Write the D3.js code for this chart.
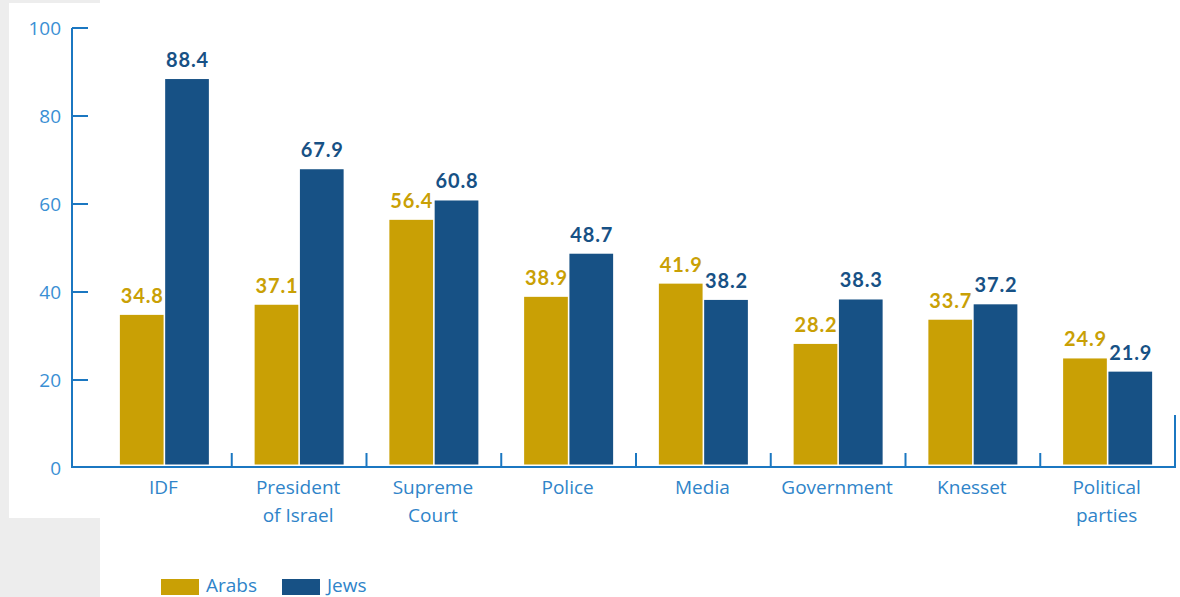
<!DOCTYPE html>
<html>
<head>
<meta charset="utf-8">
<script src="https://cdn.jsdelivr.net/npm/d3@7"></script>
<style>
  html, body { margin: 0; padding: 0; background: #ffffff; }
  svg { display: block; }
</style>
</head>
<body>
<svg id="chart" width="1180" height="597"></svg>
<script>
// Trust in institutions, by population group (%)
const categories = [
  ["IDF"],
  ["President", "of Israel"],
  ["Supreme", "Court"],
  ["Police"],
  ["Media"],
  ["Government"],
  ["Knesset"],
  ["Political", "parties"]
];
const arabs = [34.8, 37.1, 56.4, 38.9, 41.9, 28.2, 33.7, 24.9];
const jews  = [88.4, 67.9, 60.8, 48.7, 38.2, 38.3, 37.2, 21.9];
const seriesNames = ["Arabs", "Jews"];
const yTicks = [0, 20, 40, 60, 80, 100];

const colors = { Arabs: "#c9a005", Jews: "#175185" };
const axisColor = "#1b77c1";
const labelColor = "#2f84c9";

const svg = d3.select("#chart");

// page panels
svg.append("rect").attr("x", 0).attr("y", 0).attr("width", 100).attr("height", 597).attr("fill", "#ededed");
svg.append("rect").attr("x", 9).attr("y", 3).attr("width", 1171).attr("height", 515).attr("fill", "#ffffff");
svg.append("rect").attr("x", 100).attr("y", 0).attr("width", 1080).attr("height", 518).attr("fill", "#ffffff");

const y = d3.scaleLinear().domain([0, 100]).range([468, 28]);
const x = d3.scaleBand().domain(d3.range(categories.length)).range([97, 1175]);
const inner = d3.scaleBand().domain(seriesNames).range([0, 89]).paddingInner(0.035);

const rows = categories.map((c, i) => ({ i, label: c, values: [
  { key: "Arabs", v: arabs[i] },
  { key: "Jews", v: jews[i] }
]}));

// bars
const groups = svg.append("g").selectAll("g").data(rows).join("g")
  .attr("transform", d => `translate(${x(d.i) + x.bandwidth() / 2 - 44.5},0)`);

groups.selectAll("rect").data(d => d.values).join("rect")
  .attr("x", d => inner(d.key))
  .attr("y", d => y(d.v))
  .attr("width", inner.bandwidth())
  .attr("height", d => y(0) - 3.5 - y(d.v))
  .attr("fill", d => colors[d.key]);

// value labels (offset by half the letter spacing so they stay centred)
groups.selectAll("text").data(d => d.values).join("text")
  .attr("x", d => inner(d.key) + inner.bandwidth() / 2 + 0.5)
  .attr("y", d => y(d.v) - 12)
  .attr("text-anchor", "middle")
  .attr("font-family", "Lato, 'Open Sans', sans-serif")
  .attr("font-weight", 700)
  .attr("font-size", 20)
  .attr("letter-spacing", 0.9)
  .attr("fill", d => colors[d.key])
  .text(d => d.v.toFixed(1));

// y axis
const axisG = svg.append("g");
axisG.append("line")
  .attr("x1", 72).attr("x2", 72).attr("y1", y(100)).attr("y2", y(0))
  .attr("stroke", axisColor).attr("stroke-width", 2);
axisG.selectAll(".ytick").data(yTicks.filter(t => t > 0)).join("line")
  .attr("x1", 72).attr("x2", 88)
  .attr("y1", d => y(d)).attr("y2", d => y(d))
  .attr("stroke", axisColor).attr("stroke-width", 2);
axisG.selectAll(".ylab").data(yTicks).join("text")
  .attr("x", 61).attr("y", d => y(d) + 6.5)
  .attr("text-anchor", "end")
  .attr("font-family", "'Open Sans', sans-serif")
  .attr("font-size", 19)
  .attr("fill", "#3a8fd4")
  .text(d => d);

// x axis baseline and category separators
axisG.append("line")
  .attr("x1", 71).attr("x2", 1176).attr("y1", 467).attr("y2", 467)
  .attr("stroke", axisColor).attr("stroke-width", 2);
axisG.selectAll(".xsep").data(d3.range(1, categories.length)).join("line")
  .attr("x1", d => x(d)).attr("x2", d => x(d))
  .attr("y1", 453).attr("y2", 467)
  .attr("stroke", axisColor).attr("stroke-width", 2);
axisG.append("line")
  .attr("x1", 1175).attr("x2", 1175).attr("y1", 415).attr("y2", 468)
  .attr("stroke", axisColor).attr("stroke-width", 2);

// category labels
const catLabels = svg.append("g").selectAll("text").data(rows).join("text")
  .attr("x", d => x(d.i) + x.bandwidth() / 2 - 1)
  .attr("y", 494)
  .attr("text-anchor", "middle")
  .attr("font-family", "'Open Sans', sans-serif")
  .attr("font-size", 19)
  .attr("fill", labelColor);
catLabels.selectAll("tspan").data(d => d.label.map((t, k) => ({ t, k }))).join("tspan")
  .attr("x", function () { return d3.select(this.parentNode).attr("x"); })
  .attr("dy", d => d.k === 0 ? 0 : 27.5)
  .text(d => d.t);

// legend
const legendX = [161, 282];
const legend = svg.append("g").selectAll("g").data(seriesNames).join("g")
  .attr("transform", (d, i) => `translate(${legendX[i]},578)`);
legend.append("rect").attr("y", 1).attr("width", 38).attr("height", 16).attr("fill", d => colors[d]);
legend.append("text")
  .attr("x", 45).attr("y", 14)
  .attr("font-family", "'Open Sans', sans-serif")
  .attr("font-size", 19)
  .attr("fill", labelColor)
  .text(d => d);
</script>
</body>
</html>
